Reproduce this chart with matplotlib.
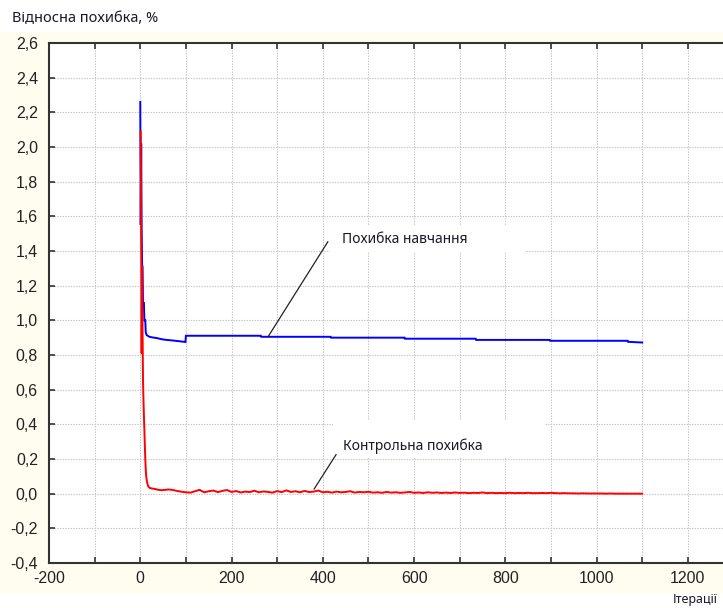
import matplotlib
matplotlib.use("Agg")
import matplotlib.pyplot as plt
from matplotlib.patches import Rectangle
import numpy as np

# ---- data ----
blue_iter = [0, 1, 2, 3, 4, 5, 6, 8, 9, 11, 12, 14, 20, 30, 36, 45, 54, 70, 90, 99,
             100, 264, 265, 417, 418, 579, 580, 735, 736, 897, 898, 1068, 1069, 1100]
blue_val = [2.26, 1.55, 2.02, 1.53, 1.32, 1.31, 1.10, 1.10, 1.00, 1.00, 0.93, 0.915,
            0.905, 0.900, 0.898, 0.892, 0.888, 0.884, 0.878, 0.875,
            0.911, 0.911, 0.905, 0.905, 0.900, 0.900, 0.894, 0.894, 0.887, 0.887,
            0.882, 0.882, 0.876, 0.872]

red_iter_start = [1, 2, 3, 4, 5, 6, 7, 8, 9, 10, 11, 12, 13, 15, 17, 20, 25, 30, 40,
                  47, 55, 62, 70, 80, 93]
red_val_start = [2.09, 1.53, 0.81, 1.31, 0.95, 0.66, 0.54, 0.45, 0.37, 0.28, 0.20,
                 0.14, 0.10, 0.065, 0.045, 0.034, 0.030, 0.028, 0.022, 0.020, 0.022,
                 0.024, 0.022, 0.016, 0.010]
red_iter_tail = list(range(100, 1101, 10))
red_val_tail = [
    0.008, 0.006, 0.014, 0.022, 0.008, 0.014, 0.018, 0.009, 0.016, 0.021,
    0.010, 0.015, 0.007, 0.012, 0.009, 0.017, 0.008, 0.013, 0.010, 0.006,
    0.015, 0.009, 0.019, 0.010, 0.014, 0.008, 0.016, 0.009, 0.012, 0.018,
    0.008, 0.011, 0.006, 0.012, 0.008, 0.010, 0.014, 0.006, 0.010, 0.008,
    0.011, 0.006, 0.008, 0.005, 0.010, 0.006, 0.008, 0.005, 0.007, 0.010,
    0.005, 0.007, 0.004, 0.008, 0.005, 0.007, 0.004, 0.006, 0.004, 0.007,
    0.004, 0.006, 0.003, 0.005, 0.004, 0.007, 0.003, 0.005, 0.003, 0.004,
    0.003, 0.005, 0.003, 0.004, 0.003, 0.005, 0.003, 0.003, 0.004, 0.003,
    0.005, 0.003, 0.002, 0.003, 0.002, 0.002, 0.001, 0.002, 0.001, 0.001,
    0.001, 0.001, 0.000, 0.001, 0.000, 0.000, 0.000, 0.000, 0.000, 0.000,
    0.000]

x_ticks = [-200, 0, 200, 400, 600, 800, 1000, 1200]
x_tick_labels = ["-200", "0", "200", "400", "600", "800", "1000", "1200"]
y_ticks = [-0.4, -0.2, 0.0, 0.2, 0.4, 0.6, 0.8, 1.0, 1.2, 1.4, 1.6, 1.8, 2.0, 2.2, 2.4, 2.6]
y_tick_labels = ["-0,4", "-0,2", "0,0", "0,2", "0,4", "0,6", "0,8", "1,0", "1,2",
                 "1,4", "1,6", "1,8", "2,0", "2,2", "2,4", "2,6"]

title_text = "Відносна похибка, %"
xlabel_text = "Ітерації"
train_label = "Похибка навчання"
ctrl_label = "Контрольна похибка"

# ---- figure ----
W, H = 723, 608
fig = plt.figure(figsize=(W / 100, H / 100), dpi=100, facecolor="white")

# cream background band
bg = fig.add_axes([0, 1 - 593 / H, 1, (593 - 32) / H], zorder=0)
bg.set_facecolor("#fffdf0")
bg.set_axis_off()
bg.add_patch(Rectangle((0, 0), 1, 1, transform=bg.transAxes,
                       facecolor="#fffdf0", edgecolor="none"))

ax = fig.add_axes([49 / W, 1 - 563 / H, 1 - 49 / W, (563 - 43) / H], zorder=2)
ax.set_facecolor("white")
ax.set_xlim(-200, 1277)
ax.set_ylim(-0.4, 2.6)

# grid
for gx in range(-100, 1300, 100):
    ax.axvline(gx, color="#c4c4c4", lw=0.8, ls=(0, (1.2, 1.2)), zorder=1)
for gy in y_ticks[1:-1]:
    ax.axhline(gy, color="#c4c4c4", lw=0.8, ls=(0, (1.2, 1.2)), zorder=1)

# white boxes behind labels
ax.add_patch(Rectangle((416, 1.395), 428, 0.155, facecolor="white",
                       edgecolor="none", zorder=2))
ax.add_patch(Rectangle((422, 0.208), 465, 0.219, facecolor="white",
                       edgecolor="none", zorder=2))

ax.plot(blue_iter, blue_val, color="#0000ff", lw=1.4, zorder=3,
        solid_joinstyle="miter")
ax.plot(red_iter_start + red_iter_tail, red_val_start + red_val_tail,
        color="#ff0000", lw=1.4, zorder=4)

# annotations
ax.plot([280, 411], [0.905, 1.453], color="#222222", lw=0.9, zorder=5)
ax.text(442, 1.465, train_label, fontsize=10, family="Noto Sans",
        color="#1a1a2a", va="center", ha="left", zorder=6)
ax.plot([381, 429], [0.027, 0.225], color="#222222", lw=0.9, zorder=5)
ax.text(444, 0.273, ctrl_label, fontsize=10, family="Noto Sans",
        color="#1a1a2a", va="center", ha="left", zorder=6)

# ticks
all_x = list(range(-200, 1300, 100))
ax.set_xticks(all_x)
ax.set_xticklabels([x_tick_labels[x_ticks.index(t)] if t in x_ticks else ""
                    for t in all_x])
ax.set_yticks(y_ticks)
ax.set_yticklabels(y_tick_labels)
ax.tick_params(axis="both", direction="in", length=4, width=1.2, color="#333333",
               labelsize=11.5, labelcolor="#222222")
ax.tick_params(axis="x", top=True, pad=6)
ax.tick_params(axis="y", pad=8)
for lab in ax.get_xticklabels() + ax.get_yticklabels():
    lab.set_family("Liberation Sans")

for side in ["left", "bottom", "top"]:
    ax.spines[side].set_color("#333333")
    ax.spines[side].set_linewidth(1.5)
ax.spines["right"].set_visible(False)

fig.text(12 / W, 1 - 19 / H, title_text, fontsize=10.5, family="Noto Sans",
         color="#1a1a2a", va="center", ha="left")
fig.text(718 / W, 1 - 600 / H, xlabel_text, fontsize=9, family="Noto Sans",
         color="#1a1a2a", va="center", ha="right")

fig.savefig("out.png", dpi=100, facecolor="white")
